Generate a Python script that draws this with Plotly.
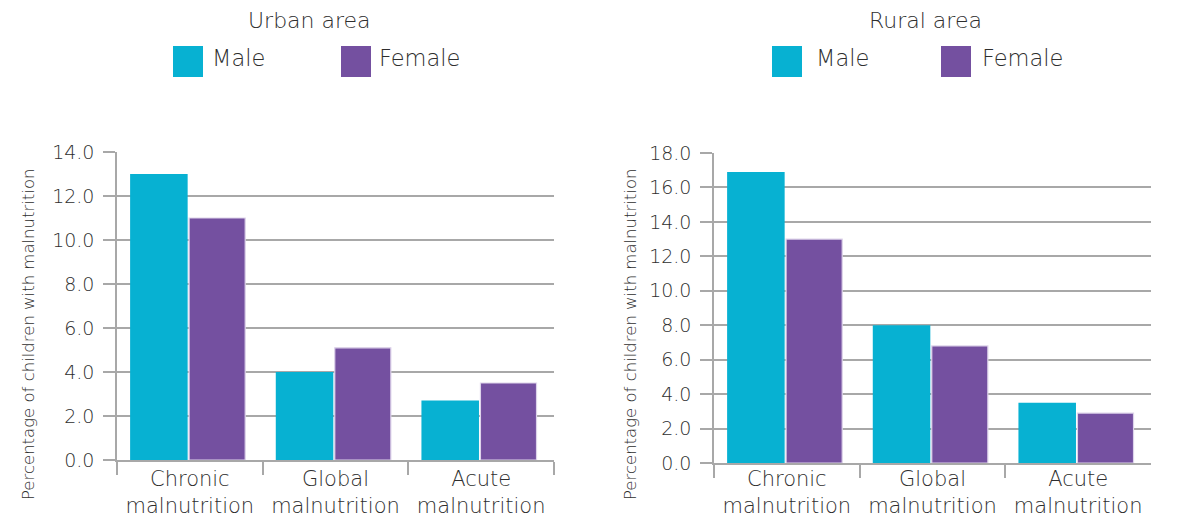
import plotly.graph_objects as go

# Malnutrition prevalence among children, by sex, urban vs rural
categories = ["Chronic<br>malnutrition", "Global<br>malnutrition", "Acute<br>malnutrition"]
urban_male = [13.0, 4.0, 2.7]
urban_female = [11.0, 5.1, 3.5]
rural_male = [16.9, 8.0, 3.5]
rural_female = [13.0, 6.8, 2.9]
urban_ticks = [0, 2, 4, 6, 8, 10, 12, 14]
rural_ticks = [0, 2, 4, 6, 8, 10, 12, 14, 16, 18]

MALE = "#07b1d2"
FEMALE = "#7450a0"
GRID = "#a8a8a8"
TEXT = "#2e2e2e"
FONT = "DejaVu Sans"
WEIGHT = 200
W, H = 1186, 520


def px_x(v):
    return v / W


def px_y(v):
    return 1 - v / H


fig = go.Figure()

panels = [
    ("x", "y", urban_male, urban_female),
    ("x2", "y2", rural_male, rural_female),
]
for xa, ya, male, female in panels:
    fig.add_trace(go.Bar(x=categories, y=male, name="Male", xaxis=xa, yaxis=ya,
                         offset=-0.41, width=0.395,
                         marker=dict(color=MALE, line=dict(width=0)), showlegend=False))
    fig.add_trace(go.Bar(x=categories, y=female, name="Female", xaxis=xa, yaxis=ya,
                         offset=-0.005, width=0.385,
                         marker=dict(color=FEMALE, line=dict(width=1.2, color="#ddd3ea")),
                         showlegend=False))

xcommon = dict(
    type="category", showline=True, linecolor=GRID, linewidth=1.5, automargin=False,
    ticks="outside", tickson="boundaries", ticklen=13, tickcolor=GRID, tickwidth=1.5,
    showgrid=False, tickfont=dict(family=FONT, size=21, color=TEXT, weight=WEIGHT),
)
ycommon = dict(
    showline=True, linecolor=GRID, linewidth=1.5, automargin=False,
    showgrid=True, gridcolor=GRID, gridwidth=1.5, zeroline=False,
    ticks="outside", ticklen=12, tickcolor=GRID, tickwidth=1.5,
    tickformat=".1f", tickfont=dict(family=FONT, size=19, color=TEXT, weight=WEIGHT),
    ticklabelstandoff=5,
)

fig.update_layout(
    width=W, height=H,
    margin=dict(l=0, r=0, t=0, b=0),
    paper_bgcolor="white", plot_bgcolor="white",
    barmode="group",
    xaxis=dict(domain=[px_x(117), px_x(554)], anchor="y", ticklabelstandoff=-1, **xcommon),
    yaxis=dict(domain=[px_y(460), px_y(152)], anchor="x", range=[0, 14],
               tickvals=urban_ticks, **ycommon),
    xaxis2=dict(domain=[px_x(714), px_x(1151)], anchor="y2", ticklabelstandoff=-4, **xcommon),
    yaxis2=dict(domain=[px_y(463), px_y(153)], anchor="x2", range=[0, 18],
                tickvals=rural_ticks, **ycommon),
)

# Rotated y-axis titles
for cx in (28, 630):
    fig.add_annotation(x=px_x(cx), y=px_y(335), xref="paper", yref="paper",
                       text="Percentage of children with malnutrition", textangle=-90,
                       showarrow=False, xanchor="center", yanchor="middle",
                       font=dict(family=FONT, size=16.5, color=TEXT, weight=WEIGHT))

# Panel titles and hand-placed legends with large swatches
titles = [("Urban area", 309), ("Rural area", 925)]
for text, cx in titles:
    fig.add_annotation(x=px_x(cx), y=px_y(21), xref="paper", yref="paper",
                       text=text, showarrow=False, xanchor="center", yanchor="middle",
                       font=dict(family=FONT, size=22, color=TEXT, weight=WEIGHT))

legends = [
    (173, 213, 341, 380),
    (772, 817, 941, 983),
]
for mx, mtx, fx, ftx in legends:
    for sx, tx, color, label in [(mx, mtx, MALE, "Male"), (fx, ftx, FEMALE, "Female")]:
        fig.add_shape(type="rect", xref="paper", yref="paper",
                      x0=px_x(sx), x1=px_x(sx + 30), y0=px_y(77), y1=px_y(46),
                      fillcolor=color, line=dict(width=0))
        fig.add_annotation(x=px_x(tx - 3), y=px_y(58), xref="paper", yref="paper",
                           text=label, showarrow=False, xanchor="left", yanchor="middle",
                           font=dict(family=FONT, size=22.5, color=TEXT, weight=WEIGHT))

fig.write_html("out.html")
